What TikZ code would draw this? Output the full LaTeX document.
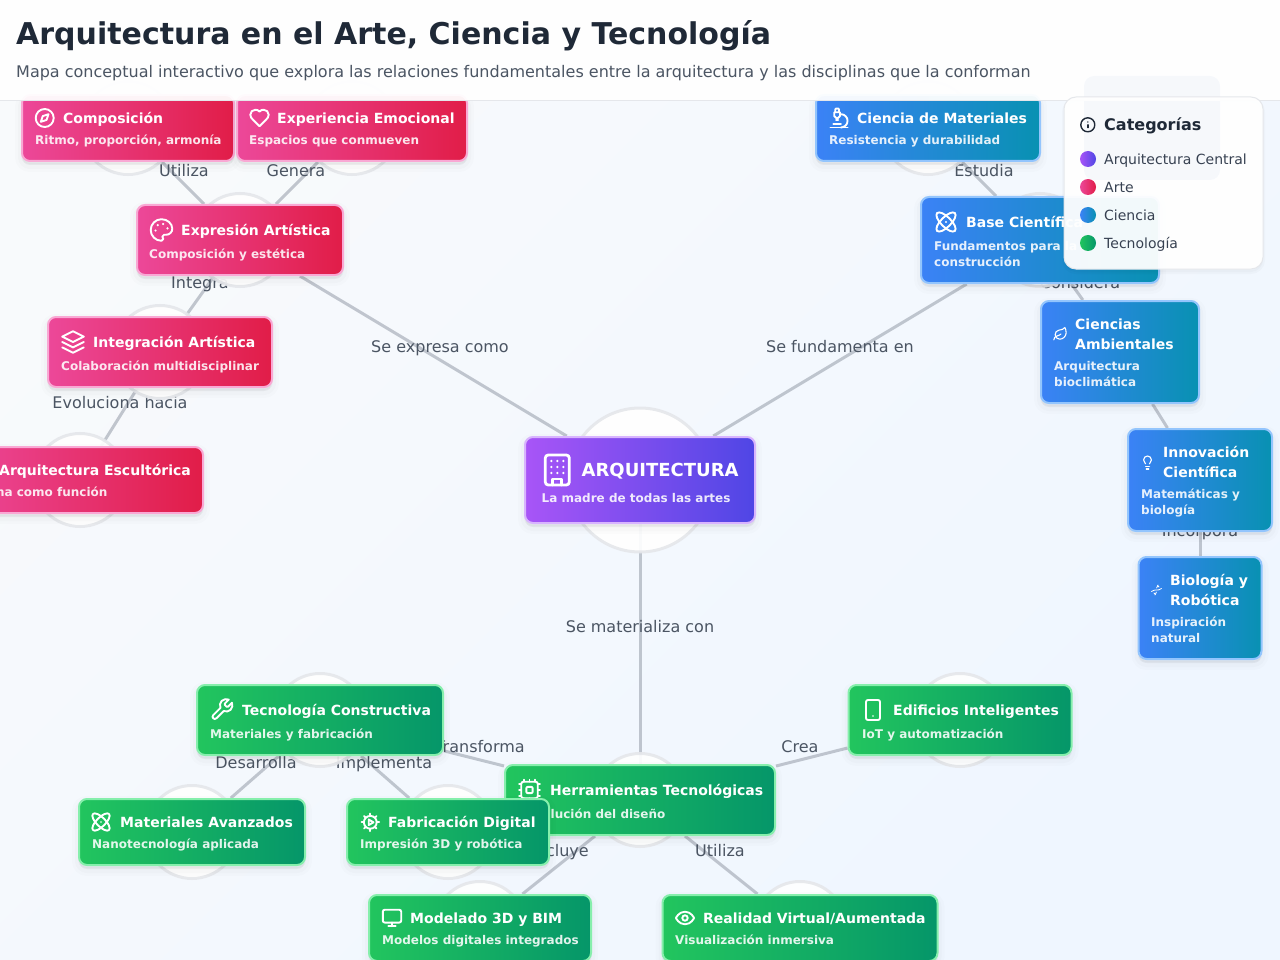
\documentclass[tikz,border=0pt]{standalone}
\usepackage{fontspec}
\setmainfont{DejaVu Sans}
\usetikzlibrary{shadows}

\definecolor{hubA}{HTML}{A855F7}
\definecolor{hubB}{HTML}{4F46E5}
\definecolor{hubE}{HTML}{D8B4FE}
\definecolor{artA}{HTML}{EC4899}
\definecolor{artB}{HTML}{E11D48}
\definecolor{artE}{HTML}{F9A8D4}
\definecolor{sciA}{HTML}{3B82F6}
\definecolor{sciB}{HTML}{0891B2}
\definecolor{sciE}{HTML}{93C5FD}
\definecolor{tecA}{HTML}{22C55E}
\definecolor{tecB}{HTML}{059669}
\definecolor{tecE}{HTML}{86EFAC}
\definecolor{ink}{HTML}{1F2937}
\definecolor{inkSoft}{HTML}{4B5563}
\definecolor{inkLegend}{HTML}{374151}
\definecolor{hairline}{HTML}{E5E7EB}
\definecolor{linkGray}{HTML}{9CA3AF}
\definecolor{pageA}{HTML}{F8FAFC}
\definecolor{pageB}{HTML}{EFF6FF}

\pgfdeclarelayer{back}
\pgfdeclarelayer{front}
\pgfsetlayers{back,main,front}

% icons, drawn on a 24 unit grid
\tikzset{
    compass/.pic={\begin{scope}[shift={(-12,-12)}]
        \draw (12,12) circle[radius=10];
        \draw (16.24,7.76) -- (14.12,14.12) -- (7.76,16.24) -- (9.88,9.88) -- cycle;
    \end{scope}},
    heart/.pic={\begin{scope}[shift={(-12,-12)}]
        \draw (19,14) .. controls (20.49,12.54) and (22,10.79) .. (22,8.5)
            .. controls (22,5.46) and (19.54,3) .. (16.5,3)
            .. controls (14.74,3) and (13.5,3.5) .. (12,5)
            .. controls (10.5,3.5) and (9.26,3) .. (7.5,3)
            .. controls (4.46,3) and (2,5.46) .. (2,8.5)
            .. controls (2,10.8) and (3.5,12.55) .. (5,14) -- (12,21) -- cycle;
    \end{scope}},
    palette/.pic={\begin{scope}[shift={(-12,-12)}]
        \draw (12,2) .. controls (6.5,2) and (2,6.5) .. (2,12)
            .. controls (2,17.5) and (6.5,22) .. (12,22)
            .. controls (12.93,22) and (13.65,21.25) .. (13.65,20.31)
            .. controls (13.65,19.87) and (13.47,19.48) .. (13.21,19.19)
            .. controls (12.92,18.9) and (12.77,18.53) .. (12.77,18.06)
            .. controls (12.77,17.14) and (13.52,16.39) .. (14.44,16.39) -- (16.44,16.39)
            .. controls (19.49,16.39) and (21.99,13.89) .. (21.99,10.84)
            .. controls (21.97,6.01) and (17.46,2) .. (12,2) -- cycle;
        \foreach \px/\py in {13.5/6.5,17.5/10.5,8.5/7.5,6.5/12.5}
            \fill (\px,\py) circle[radius=1.1];
    \end{scope}},
    layers/.pic={\begin{scope}[shift={(-12,-12)}]
        \draw (12,2) -- (2,7) -- (12,12) -- (22,7) -- cycle;
        \draw (2,17) -- (12,22) -- (22,17);
        \draw (2,12) -- (12,17) -- (22,12);
    \end{scope}},
    building/.pic={\begin{scope}[shift={(-12,-12)}]
        \draw[rounded corners=3pt] (4,2) rectangle (20,22);
        \draw (9,22) -- (9,18) -- (15,18) -- (15,22);
        \foreach \px in {8,12,16}
            \foreach \py in {6,10,14}
                \fill (\px,\py) circle[radius=.85];
    \end{scope}},
    atom/.pic={\begin{scope}[shift={(-12,-12)}]
        \fill (12,12) circle[radius=1.1];
        \draw[rotate around={45:(12,12)}] (12,12) ellipse[x radius=12.6,y radius=5];
        \draw[rotate around={-45:(12,12)}] (12,12) ellipse[x radius=12.6,y radius=5];
    \end{scope}},
    microscope/.pic={\begin{scope}[shift={(-12,-12)}]
        \draw (6,18) -- (14,18);
        \draw (3,22) -- (21,22);
        \draw (14,22) .. controls (17.87,22) and (21,18.87) .. (21,15)
            .. controls (21,11.13) and (17.87,8) .. (14,8) -- (13,8);
        \draw (9,14) -- (11,14);
        \draw (9,12) .. controls (7.9,12) and (7,11.1) .. (7,10) -- (7,6) -- (13,6) -- (13,10)
            .. controls (13,11.1) and (12.1,12) .. (11,12) -- cycle;
        \draw (12,6) -- (12,3) .. controls (12,2.4) and (11.6,2) .. (11,2) -- (9,2)
            .. controls (8.4,2) and (8,2.4) .. (8,3) -- (8,6);
    \end{scope}},
    leaf/.pic={\begin{scope}[shift={(-12,-12)}]
        \draw (11,20) .. controls (7.1,20) and (4,16.9) .. (4,13)
            .. controls (4,9.6) and (6.4,6.7) .. (9.8,6.1)
            .. controls (15.5,5) and (17,4.48) .. (19,2)
            .. controls (20,4) and (21,6.18) .. (21,10)
            .. controls (21,15.5) and (16.22,20) .. (11,20) -- cycle;
        \draw (2,21) .. controls (2,18) and (3.85,15.64) .. (7.08,15)
            .. controls (9.5,14.52) and (12,13) .. (13,12);
    \end{scope}},
    bulb/.pic={\begin{scope}[shift={(-12,-12)}]
        \draw (15,14) .. controls (15.2,13) and (15.7,12.3) .. (16.5,11.5)
            .. controls (17.5,10.6) and (18,9.3) .. (18,8)
            .. controls (18,4.7) and (15.3,2) .. (12,2)
            .. controls (8.7,2) and (6,4.7) .. (6,8)
            .. controls (6,9) and (6.2,10.2) .. (7.5,11.5)
            .. controls (8.2,12.2) and (8.8,13) .. (9,14);
        \draw (9,18) -- (15,18);
        \draw (10,22) -- (14,22);
    \end{scope}},
    helix/.pic={\begin{scope}[shift={(-12,-12)}]
        \draw (2,15) .. controls (8.67,9) and (15.33,15) .. (22,9);
        \draw (9,22) .. controls (10.8,20) and (11.52,18) .. (11.81,16);
        \draw (15,2) .. controls (13.2,4) and (12.48,6) .. (12.19,8);
        \draw (17,6) -- (14.5,3.5);
        \draw (7,18) -- (9.5,20.5);
    \end{scope}},
    wrench/.pic={\begin{scope}[shift={(-12,-12)}]
        \draw (14.7,6.3) .. controls (14.3,6.7) and (14.3,7.3) .. (14.7,7.7) -- (16.3,9.3)
            .. controls (16.7,9.7) and (17.3,9.7) .. (17.7,9.3) -- (21.47,5.53)
            .. controls (22.3,7.8) and (22,10.5) .. (20.24,12.24)
            .. controls (18.5,14) and (15.8,14.3) .. (13.53,13.47) -- (6.62,20.38)
            .. controls (5.8,21.2) and (4.45,21.2) .. (3.62,20.38)
            .. controls (2.8,19.55) and (2.8,18.2) .. (3.62,17.38) -- (10.53,10.47)
            .. controls (9.7,8.2) and (10,5.5) .. (11.76,3.76)
            .. controls (13.5,2) and (16.2,1.7) .. (18.47,2.53) -- cycle;
    \end{scope}},
    chip/.pic={\begin{scope}[shift={(-12,-12)}]
        \draw[rounded corners=2pt] (4,4) rectangle (20,20);
        \draw[rounded corners=1pt] (9,9) rectangle (15,15);
        \foreach \pin in {6.5,12,17.5} {
            \draw (\pin,2) -- (\pin,4);
            \draw (\pin,20) -- (\pin,22);
            \draw (2,\pin) -- (4,\pin);
            \draw (20,\pin) -- (22,\pin);
        }
    \end{scope}},
    gearplay/.pic={\begin{scope}[shift={(-12,-12)}]
        \draw (12,12) circle[radius=8];
        \foreach \spoke in {0,45,...,315}
            \draw (12,12) ++(\spoke:8) -- ++(\spoke:3);
        \draw (10,8.5) -- (16,12) -- (10,15.5) -- cycle;
    \end{scope}},
    phone/.pic={\begin{scope}[shift={(-12,-12)}]
        \draw[rounded corners=2pt] (5,2) rectangle (19,22);
        \fill (12,18) circle[radius=.8];
    \end{scope}},
    monitor/.pic={\begin{scope}[shift={(-12,-12)}]
        \draw[rounded corners=2pt] (2,3) rectangle (22,17);
        \draw (8,21) -- (16,21);
        \draw (12,17) -- (12,21);
    \end{scope}},
    eye/.pic={\begin{scope}[shift={(-12,-12)}]
        \draw (2,12) .. controls (2,12) and (5,5) .. (12,5)
            .. controls (19,5) and (22,12) .. (22,12)
            .. controls (22,12) and (19,19) .. (12,19)
            .. controls (5,19) and (2,12) .. (2,12) -- cycle;
        \draw (12,12) circle[radius=3];
    \end{scope}},
    info/.pic={\begin{scope}[shift={(-12,-12)}]
        \draw (12,12) circle[radius=10];
        \draw (12,16) -- (12,12);
        \fill (12,8) circle[radius=1.1];
    \end{scope}},
}

\begin{document}
\begin{tikzpicture}[
    x=1pt,y=-1pt,
    softshadow/.style={
        general shadow={shadow yshift=-4pt, draw=black, fill=black, line width=14pt, opacity=.012},
        general shadow={shadow yshift=-4pt, draw=black, fill=black, line width=8pt, opacity=.016},
        general shadow={shadow yshift=-3pt, draw=black, fill=black, line width=2pt, opacity=.02}},
    card/.style={softshadow, rounded corners=8pt, line width=2pt, inner sep=0pt, minimum height=66pt},
    hubcard/.style={card, draw=hubE, left color=hubA, right color=hubB},
    artcard/.style={card, draw=artE, left color=artA, right color=artB},
    scicard/.style={card, draw=sciE, left color=sciA, right color=sciB},
    teccard/.style={card, draw=tecE, left color=tecA, right color=tecB},
    cardtitle/.style={anchor=base west, inner sep=0pt, text=white, align=left, font=\fontsize{14}{20}\selectfont\bfseries},
    cardsub/.style={anchor=base west, inner sep=0pt, text=white, text opacity=.88, align=left, font=\fontsize{12}{16}\selectfont\bfseries},
    ring/.style={circle, draw=hairline, line width=3pt, fill=white, fill opacity=.92, draw opacity=.9, minimum size=93pt, inner sep=0pt},
    linkline/.style={draw=linkGray, line width=3pt, opacity=.6},
    linktag/.style={text=inkSoft, inner sep=0pt, text height=14.7pt, text depth=3pt, font=\fontsize{16}{18}\selectfont},
    ic/.style={white, line cap=round, line join=round, line width=1.9pt},
    icsmall/.style={white, line cap=round, line join=round, line width=1.1pt},
    legenditem/.style={anchor=base west, inner sep=0pt, text=inkLegend, font=\fontsize{14}{16}\selectfont},
    legenddot/.style={circle, minimum size=16pt, inner sep=0pt}
]
    \useasboundingbox (0,0) rectangle (1280,960);

    % cards, in the order they stack
    \node[hubcard, minimum width=230pt, minimum height=86pt] (arch) at (640,480) {};
    \node[cardtitle, font=\fontsize{18}{24}\selectfont\bfseries] (archT) at (581.5,476.5) {ARQUITECTURA};
    \node[cardsub] (archS) at (541.5,502.5) {La madre de todas las artes};
    \pic[ic, scale=1.5, line width=2.8pt] at (557.3,470) {building};

    \node[artcard, minimum width=206pt, minimum height=70pt] (expr) at (240,240) {};
    \node[cardtitle] (exprT) at (181,235.5) {Expresión Artística};
    \node[cardsub] (exprS) at (149,258.5) {Composición y estética};
    \pic[ic, scale=1.08] at (161.5,230) {palette};

    \node[artcard, minimum width=212pt] (comp) at (128,128) {};
    \node[cardtitle] (compT) at (63,123.5) {Composición};
    \node[cardsub] (compS) at (35,144.5) {Ritmo, proporción, armonía};
    \pic[ic, scale=.9] at (44.7,118) {compass};

    \node[artcard, minimum width=230pt] (expe) at (352,128) {};
    \node[cardtitle] (expeT) at (277,123.5) {Experiencia Emocional};
    \node[cardsub] (expeS) at (249,144.5) {Espacios que conmueven};
    \pic[ic, scale=.92] at (259.5,118) {heart};

    \node[artcard, minimum width=224pt, minimum height=70pt] (inte) at (160,352) {};
    \node[cardtitle] (inteT) at (93,347.5) {Integración Artística};
    \node[cardsub] (inteS) at (61,370.5) {Colaboración multidisciplinar};
    \pic[ic, scale=1.08] at (73,342) {layers};

    \node[artcard, minimum width=246pt] (escu) at (80,480) {};
    \node[cardtitle] (escuT) at (-1,475.5) {Arquitectura Escultórica};
    \node[cardsub] (escuS) at (-30,496.5) {Forma como función};

    \node[rounded corners=10pt, fill=sciA!55!gray, minimum width=136pt, minimum height=104pt] (hidd) at (1152,128) {};

    \node[scicard, minimum width=238pt, minimum height=86pt] (base) at (1040,240) {};
    \node[cardtitle] (baseT) at (966,227.5) {Base Científica};
    \node[cardsub] (baseS) at (934,266.5) {Fundamentos para la\\construcción};
    \pic[ic, scale=1] at (946,222) {atom};

    \node[scicard, minimum width=224pt] (mate) at (928,128) {};
    \node[cardtitle] (mateT) at (857,123.5) {Ciencia de Materiales};
    \node[cardsub] (mateS) at (829,144.5) {Resistencia y durabilidad};
    \pic[ic, scale=.95] at (839,118) {microscope};

    \node[scicard, minimum width=158pt, minimum height=102pt] (ambi) at (1120,352) {};
    \node[cardtitle] (ambiT) at (1075,349.5) {Ciencias\\Ambientales};
    \node[cardsub] (ambiS) at (1054,386.5) {Arquitectura\\bioclimática};
    \pic[icsmall, scale=.65] at (1060.3,334) {leaf};

    \node[scicard, minimum width=144pt, minimum height=102pt] (inno) at (1200,480) {};
    \node[cardtitle] (innoT) at (1163,477.5) {Innovación\\Científica};
    \node[cardsub] (innoS) at (1141,514.5) {Matemáticas y\\biología};
    \pic[icsmall, scale=.65] at (1147.5,462.5) {bulb};

    \node[scicard, minimum width=123pt, minimum height=102pt] (biol) at (1200,608) {};
    \node[cardtitle] (biolT) at (1170,605.5) {Biología y\\Robótica};
    \node[cardsub] (biolS) at (1151,642.5) {Inspiración\\natural};
    \pic[icsmall, scale=.5, line width=.8pt] at (1156.5,590) {helix};

    \node[teccard, minimum width=270pt, minimum height=70pt] (herr) at (640,800) {};
    \node[cardtitle] (herrT) at (550,795.5) {Herramientas Tecnológicas};
    \node[cardsub] (herrS) at (517,818.5) {Revolución del diseño};
    \pic[ic, scale=1.03] at (529.5,790) {chip};

    \node[teccard, minimum width=246pt, minimum height=70pt] (tecn) at (320,720) {};
    \node[cardtitle] (tecnT) at (242,715.5) {Tecnología Constructiva};
    \node[cardsub] (tecnS) at (210,738.5) {Materiales y fabricación};
    \pic[ic, scale=1.05] at (222,709.5) {wrench};

    \node[teccard, minimum width=223pt, minimum height=70pt] (edif) at (960,720) {};
    \node[cardtitle] (edifT) at (893,715.5) {Edificios Inteligentes};
    \node[cardsub] (edifS) at (862,738.5) {IoT y automatización};
    \pic[ic, scale=1] at (873,710) {phone};

    \node[teccard, minimum width=226pt] (avan) at (192,832) {};
    \node[cardtitle] (avanT) at (120,827.5) {Materiales Avanzados};
    \node[cardsub] (avanS) at (92,848.5) {Nanotecnología aplicada};
    \pic[ic, scale=.9] at (101,822) {atom};

    \node[teccard, minimum width=202pt] (fabr) at (448,832) {};
    \node[cardtitle] (fabrT) at (388,827.5) {Fabricación Digital};
    \node[cardsub] (fabrS) at (360,848.5) {Impresión 3D y robótica};
    \pic[ic, scale=.8] at (370.3,822.3) {gearplay};

    \node[teccard, minimum width=222pt] (mode) at (480,928) {};
    \node[cardtitle] (modeT) at (410,923.5) {Modelado 3D y BIM};
    \node[cardsub] (modeS) at (382,944.5) {Modelos digitales integrados};
    \pic[ic, scale=.92] at (392,918) {monitor};

    \node[teccard, minimum width=275pt] (real) at (800,928) {};
    \node[cardtitle] (realT) at (703,923.5) {Realidad Virtual/Aumentada};
    \node[cardsub] (realS) at (675,944.5) {Visualización inmersiva};
    \pic[ic, scale=.9] at (685,918) {eye};

    % links, tags and rings sit under the cards
    \begin{pgfonlayer}{back}
        \fill[left color=pageA, right color=pageB, shading angle=45] (0,0) rectangle (1280,960);

        \draw[linkline] (arch) -- (expr);
        \draw[linkline] (arch) -- (base);
        \draw[linkline] (arch) -- (herr);
        \draw[linkline] (expr) -- (comp);
        \draw[linkline] (expr) -- (expe);
        \draw[linkline] (expr) -- (inte);
        \draw[linkline] (inte) -- (escu);
        \draw[linkline] (base) -- (mate);
        \draw[linkline] (base) -- (ambi);
        \draw[linkline] (ambi) -- (inno);
        \draw[linkline] (inno) -- (biol);
        \draw[linkline] (herr) -- (tecn);
        \draw[linkline] (herr) -- (edif);
        \draw[linkline] (herr) -- (mode);
        \draw[linkline] (herr) -- (real);
        \draw[linkline] (tecn) -- (avan);
        \draw[linkline] (tecn) -- (fabr);

        \node[linktag] (tagExpr) at (440,347) {Se expresa como};
        \node[linktag] (tagBase) at (840,347) {Se fundamenta en};
        \node[linktag] (tagHerr) at (640,627) {Se materializa con};
        \node[linktag] (tagComp) at (184,171) {Utiliza};
        \node[linktag] (tagExpe) at (296,171) {Genera};
        \node[linktag] (tagInte) at (200,283) {Integra};
        \node[linktag] (tagEscu) at (120,403) {Evoluciona hacia};
        \node[linktag] (tagMate) at (984,171) {Estudia};
        \node[linktag] (tagAmbi) at (1080,283) {Considera};
        \node[linktag] (tagBiol) at (1200,531) {Incorpora};
        \node[linktag] (tagTecn) at (480,747) {Transforma};
        \node[linktag] (tagEdif) at (800,747) {Crea};
        \node[linktag] (tagMode) at (560,851) {Incluye};
        \node[linktag] (tagReal) at (720,851) {Utiliza};
        \node[linktag] (tagAvan) at (256,763) {Desarrolla};
        \node[linktag] (tagFabr) at (384,763) {Implementa};

        \node[ring, minimum size=144pt] (ringArch) at (arch) {};
        \foreach \card in {expr,comp,expe,inte,escu,base,mate,herr,tecn,edif,avan,fabr,mode,real}
            \node[ring] (ring\card) at (\card) {};
    \end{pgfonlayer}

    % header and legend float over everything
    \begin{pgfonlayer}{front}
        \fill[white, opacity=.95] (0,0) rectangle (1280,100);
        \draw[hairline, line width=1pt] (0,100.5) -- (1280,100.5);
        \node[anchor=base west, inner sep=0pt, text=ink, font=\fontsize{30}{34}\selectfont\bfseries] (title) at (16,45) {Arquitectura en el Arte, Ciencia y Tecnología};
        \node[anchor=base west, inner sep=0pt, text=inkSoft, font=\fontsize{16}{18}\selectfont] (subtitle) at (16,78) {Mapa conceptual interactivo que explora las relaciones fundamentales entre la arquitectura y las disciplinas que la conforman};

        \node[general shadow={shadow yshift=-3pt, draw=black, fill=black, line width=4pt, opacity=.02}, rounded corners=12pt, draw=hairline, line width=1pt, fill=white, fill opacity=.95, minimum width=199pt, minimum height=172pt, inner sep=0pt] (legend) at (1163.5,183) {};
        \pic[ic, color=ink, scale=.7, line width=1.4pt] at (1087.8,124.8) {info};
        \node[anchor=base west, inner sep=0pt, text=ink, font=\fontsize{16}{18}\selectfont\bfseries] (legendT) at (1104,130.5) {Categorías};

        \node[legenddot, left color=hubA, right color=hubB] (dotHub) at (1088,159) {};
        \node[legenditem] (itemHub) at (1104,164.5) {Arquitectura Central};
        \node[legenddot, left color=artA, right color=artB] (dotArt) at (1088,187) {};
        \node[legenditem] (itemArt) at (1104,192.5) {Arte};
        \node[legenddot, left color=sciA, right color=sciB] (dotSci) at (1088,215) {};
        \node[legenditem] (itemSci) at (1104,220.5) {Ciencia};
        \node[legenddot, left color=tecA, right color=tecB] (dotTec) at (1088,243) {};
        \node[legenditem] (itemTec) at (1104,248.5) {Tecnología};
    \end{pgfonlayer}
\end{tikzpicture}
\end{document}
